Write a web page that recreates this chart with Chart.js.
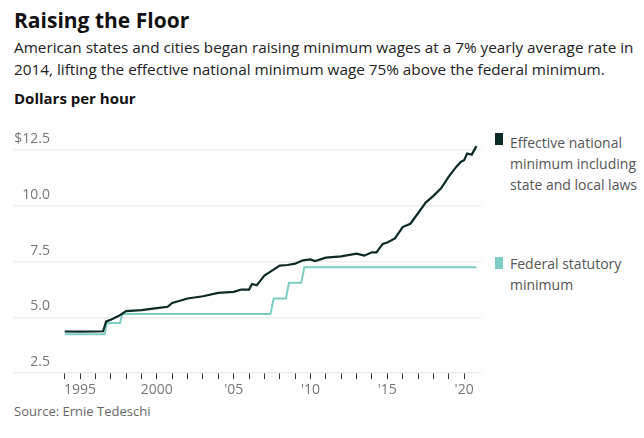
<!DOCTYPE html>
<html><head><meta charset="utf-8">
<script src="https://cdn.jsdelivr.net/npm/chart.js@4"></script>
<style>
body{margin:0;background:#fff;font-family:"Open Sans",sans-serif;}
#title{position:absolute;left:14px;top:6px;font:bold 21px "Open Sans";color:#111;}
#sub{position:absolute;left:14px;top:36px;width:625px;font:15.3px/22px "Open Sans";color:#222;}
#unit{position:absolute;left:14px;top:88px;font:bold 15px "Open Sans";color:#111;}
#wrap{position:absolute;left:0;top:120px;width:490px;height:280px;}
.lg{position:absolute;left:510px;font:14px/21px "Open Sans";color:#555;}
.sw{position:absolute;left:495px;width:8px;height:12px;}
#src{position:absolute;left:14px;top:402px;font:13px "Open Sans";color:#666;}
</style></head><body>
<div id="title">Raising the Floor</div>
<div id="sub">American states and cities began raising minimum wages at a 7% yearly average rate in 2014, lifting the effective national minimum wage 75% above the federal minimum.</div>
<div id="unit">Dollars per hour</div>
<div id="wrap"><canvas id="c"></canvas></div>
<div class="sw" style="top:133px;background:#0d2a26"></div>
<div class="lg" style="top:132px">Effective national<br>minimum including<br>state and local laws</div>
<div class="sw" style="top:257px;background:#7ecdc4"></div>
<div class="lg" style="top:253px">Federal statutory<br>minimum</div>
<div id="src">Source: Ernie Tedeschi</div>
<script>
const effYears = [1994,1995,1996,1996.5,1996.7,1997,1997.5,1998,1999,2000,2000.7,2001,2002,2003,2004,2005,2005.5,2006,2006.2,2006.5,2007,2007.5,2008,2008.5,2009,2009.5,2010,2010.3,2011,2012,2013,2013.5,2014,2014.3,2014.7,2015,2015.5,2016,2016.5,2017,2017.5,2018,2018.5,2019,2019.5,2019.8,2020,2020.2,2020.5,2020.8];
const effValues = [4.37,4.36,4.37,4.38,4.82,4.9,5.06,5.28,5.33,5.42,5.48,5.65,5.85,5.95,6.1,6.15,6.25,6.25,6.5,6.44,6.88,7.1,7.32,7.35,7.41,7.56,7.6,7.53,7.68,7.74,7.86,7.77,7.92,7.92,8.3,8.36,8.54,9.05,9.2,9.67,10.15,10.45,10.79,11.31,11.76,11.98,12.05,12.35,12.3,12.68];
const fedYears = [1994,1996.6,1996.75,1997.6,1997.75,2007.4,2007.6,2008.4,2008.6,2009.4,2009.6,2020.8];
const fedValues = [4.25,4.25,4.75,4.75,5.15,5.15,5.85,5.85,6.55,6.55,7.25,7.25];
const yTicks = [2.5,5.0,7.5,10.0,12.5];
const yLabels = ['2.5','5.0','7.5','10.0','$12.5'];
const xTicks = []; for (let y = 1994; y <= 2020; y++) xTicks.push(y);
const xLabel = y => y === 1995 || y === 2000 ? String(y) : (y % 5 === 0 ? "'" + String(y).slice(2) : '');

const toPts = (xs, vs) => xs.map((x, i) => ({x: x, y: vs[i]}));
const yLabelPlugin = {
  id: 'ylab',
  afterDraw(chart) {
    const ctx = chart.ctx, s = chart.scales.y;
    ctx.save();
    ctx.font = '14px "Open Sans"'; ctx.fillStyle = '#777'; ctx.textAlign = 'right'; ctx.textBaseline = 'bottom';
    yTicks.forEach((v, i) => ctx.fillText(yLabels[i], 50, s.getPixelForValue(v) - 4));
    ctx.restore();
  }
};
new Chart(document.getElementById('c'), {
  type: 'line',
  data: { datasets: [
    { data: toPts(effYears, effValues), borderColor: '#0d2a26', borderWidth: 2.2, pointRadius: 0, tension: 0 },
    { data: toPts(fedYears, fedValues), borderColor: '#7ecdc4', borderWidth: 2, pointRadius: 0, tension: 0 }
  ]},
  options: {
    responsive: true, maintainAspectRatio: false, animation: false,
    layout: { padding: { left: 14, right: 9, top: 19 } },
    plugins: { legend: { display: false }, tooltip: { enabled: false } },
    scales: {
      x: { type: 'linear', min: 1990.7, max: 2021.1,
        afterBuildTicks: s => { s.ticks = xTicks.map(v => ({value: v})); },
        grid: { drawOnChartArea: false, tickLength: 6, color: '#333', lineWidth: 1 },
        border: { display: false },
        ticks: { autoSkip: false, maxRotation: 0, color: '#777', font: { size: 14, family: 'Open Sans' }, padding: 2, callback: v => xLabel(v) } },
      y: { min: 2.5, max: 13,
        afterBuildTicks: s => { s.ticks = yTicks.map(v => ({value: v})); },
        grid: { color: '#eee', lineWidth: 1.5, drawTicks: false },
        border: { display: false },
        ticks: { display: false } }
    }
  },
  plugins: [yLabelPlugin]
});
</script></body></html>
